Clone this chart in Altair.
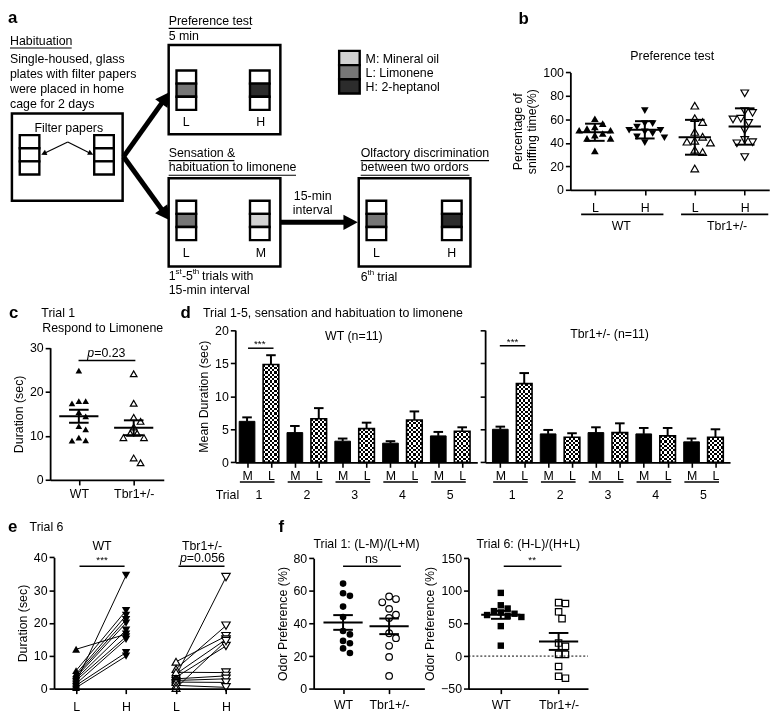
import math
import numpy as np
import pandas as pd
import altair as alt

FONT = "Liberation Sans"
INK = "black"

# ================= data =================
# b  Preference test: percentage of sniffing time (%)
b_wt_L = [60.6, 56.4, 53.6, 52.2, 50.8, 50.8, 48.0, 46.7, 43.9, 43.9, 33.3]
b_wt_H = [67.5, 56.4, 56.4, 53.6, 50.8, 50.8, 49.4, 48.0, 45.3, 44.4, 40.3]
b_tbr_L = [71.7, 61.1, 57.8, 49.4, 45.3, 41.9, 41.1, 40.3, 34.2, 32.2, 18.3]
b_tbr_H = [82.2, 67.0, 65.6, 60.6, 60.0, 57.0, 50.8, 42.5, 40.6, 39.7, 28.0]
b_ticks = ["L", "H", "L", "H"]

# c  Trial 1, response to limonene (sec)
c_wt = [24.8, 17.9, 17.4, 17.9, 15.4, 14.4, 12.2, 11.5, 9.6, 8.9, 9.0]
c_tbr = [24.1, 17.4, 14.2, 13.3, 12.0, 10.6, 10.6, 9.6, 9.6, 5.0, 3.9]
c_ticks = ["WT", "Tbr1+/-"]

# d  Trials 1-5, mean duration (sec) +/- SEM
d_trials = ["1", "2", "3", "4", "5"]
d_wt_M = [6.2, 4.5, 3.2, 2.9, 4.0]
d_wt_M_sem = [0.6, 1.0, 0.4, 0.3, 0.6]
d_wt_L = [14.8, 6.6, 5.1, 6.4, 4.7]
d_wt_L_sem = [1.4, 1.6, 0.9, 1.3, 0.6]
d_tbr_M = [5.0, 4.3, 4.5, 4.3, 3.1]
d_tbr_M_sem = [0.4, 0.6, 0.8, 0.9, 0.5]
d_tbr_L = [11.9, 3.8, 4.5, 4.0, 3.8]
d_tbr_L_sem = [1.6, 0.6, 1.4, 1.2, 1.2]

# e  Trial 6, paired durations (sec)
e_wt_L = [12.0, 2.0, 5.5, 4.5, 4.0, 3.5, 3.0, 2.5, 1.5, 1.0, 0.3]
e_wt_H = [16.6, 34.5, 23.8, 22.3, 21.0, 20.0, 17.8, 15.8, 15.0, 11.0, 9.9]
e_tbr_L = [3.9, 8.2, 6.0, 4.5, 3.5, 5.0, 3.0, 2.5, 2.0, 1.0, 0.2]
e_tbr_H = [34.0, 16.0, 19.2, 15.0, 13.0, 4.9, 3.9, 3.0, 1.9, 0.4, 14.5]
e_ticks = ["L", "H", "L", "H"]

# f  Odor preference (%)
f1_wt = [64.5, 58.6, 57.0, 50.4, 44.0, 35.4, 33.3, 29.3, 27.9, 24.7, 21.9]
f1_tbr = [56.6, 55.0, 53.0, 49.0, 45.4, 43.4, 34.0, 31.0, 26.3, 19.5, 7.8]
f6_wt = [97.0, 78.0, 73.0, 69.0, 67.0, 65.0, 63.0, 62.0, 60.0, 46.0, 16.0]
f6_tbr = [82.0, 80.7, 68.0, 57.5, 20.0, 15.0, 2.5, 2.5, -16.0, -31.0, -34.0]
f_ticks = ["WT", "Tbr1+/-"]

# ================= layout helpers =================
W, H = 770, 708
S = 0.99


def px(x):
    return (x - 1.0) * S


def py(y):
    return (y - 2.0) * S


XR = alt.Scale(domain=[0, 778], range=[px(0), px(778)], nice=False, zero=False)
YR = alt.Scale(domain=[0, 716], range=[py(0), py(716)], nice=False, zero=False)


class Sc:
    def __init__(self, dom, rng):
        self.dom = dom
        self.scale = alt.Scale(domain=dom, range=rng, nice=False, zero=False)

    def mid(self):
        return (self.dom[0] + self.dom[1]) / 2


def lin_x(va, xa, vb, xb, lo, hi):
    k = (xb - xa) / (vb - va)
    return Sc([va + (lo - xa) / k, va + (hi - xa) / k], [px(lo), px(hi)])


def lin_y(v0, y0, v1, y1):
    return Sc([v0, v1], [py(y0), py(y1)])


AX = dict(grid=False, domainColor=INK, domainWidth=1.8, tickColor=INK, tickWidth=1.6,
          tickSize=5, labelFont=FONT, labelFontSize=12.5, labelColor=INK,
          labelFlush=False, labelOverlap=False, titleFont=FONT, titleFontSize=12.5,
          titleFontWeight="normal", titleColor=INK, zindex=2)


def y_axis(x_ref, values, title="", labels=True, pad=4):
    return alt.Axis(orient="left", offset=-px(x_ref), values=values, title=title,
                    labels=labels, labelPadding=2, titlePadding=pad, **AX)


def x_axis(y_ref, values, expr, pad=2):
    return alt.Axis(orient="bottom", offset=py(y_ref) - H, values=values,
                    labelExpr=expr, title="", labelPadding=pad, **AX)


def axis_layer(xs, ys, xa, ya):
    d = pd.DataFrame({"ax": [xs.mid()], "ay": [ys.mid()]})
    return alt.Chart(d).mark_point(opacity=0).encode(
        x=alt.X("ax:Q", scale=xs.scale, axis=xa),
        y=alt.Y("ay:Q", scale=ys.scale, axis=ya))


def XY(xf, yf, xs, ys):
    return dict(x=alt.X(xf, type="quantitative", scale=xs.scale, axis=None),
                y=alt.Y(yf, type="quantitative", scale=ys.scale, axis=None))


def rules_on(rows, xs, ys, width=2.0, dash=None):
    df = pd.DataFrame(rows, columns=["x1", "y1", "x2", "y2"])
    kw = dict(color=INK, strokeWidth=width)
    if dash:
        kw["strokeDash"] = dash
    return alt.Chart(df).mark_rule(**kw).encode(
        x=alt.X("x1:Q", scale=xs.scale, axis=None), x2="x2:Q",
        y=alt.Y("y1:Q", scale=ys.scale, axis=None), y2="y2:Q")


def text_layer(rows, align="left", weight="normal", style="normal"):
    df = pd.DataFrame(rows, columns=["t", "x", "y", "s"])
    return alt.Chart(df).mark_text(font=FONT, align=align, baseline="middle",
                                   fontWeight=weight, fontStyle=style, color=INK).encode(
        x=alt.X("x:Q", scale=XR, axis=None), y=alt.Y("y:Q", scale=YR, axis=None),
        text="t:N", size=alt.Size("s:Q", scale=None))


def rule_layer(rows):
    df = pd.DataFrame(rows, columns=["x1", "y1", "x2", "y2", "w"])
    return alt.Chart(df).mark_rule(color=INK).encode(
        x=alt.X("x1:Q", scale=XR, axis=None), x2="x2:Q",
        y=alt.Y("y1:Q", scale=YR, axis=None), y2="y2:Q",
        strokeWidth=alt.StrokeWidth("w:Q", scale=None))


def rect_layer(rows):
    df = pd.DataFrame(rows, columns=["x1", "y1", "x2", "y2", "fill", "w"])
    return alt.Chart(df).mark_rect(stroke=INK).encode(
        x=alt.X("x1:Q", scale=XR, axis=None), x2="x2:Q",
        y=alt.Y("y1:Q", scale=YR, axis=None), y2="y2:Q",
        fill=alt.Fill("fill:N", scale=None),
        strokeWidth=alt.StrokeWidth("w:Q", scale=None))


def swarm(vals, ppu, diam):
    idx = sorted(range(len(vals)), key=lambda i: -vals[i])
    cands = [0.0]
    for j in range(1, 14):
        cands += [j * diam / 2, -j * diam / 2]
    placed, offs = [], [0.0] * len(vals)
    for i in idx:
        yv = vals[i] * ppu
        chosen = cands[-1]
        for c in cands:
            if all(math.hypot(c - ox, yv - oy) >= diam for ox, oy in placed):
                chosen = c
                break
        placed.append((chosen, yv))
        offs[i] = chosen
    return offs


def dot_layers(groups, xs, ys, step, ppu, diam, size, half_mean, half_cap, kind):
    out, srows = [], []
    for pos, vals, shape, filled in groups:
        offs = swarm(vals, ppu, diam)
        df = pd.DataFrame({"x": [pos + o / step for o in offs], "y": vals})
        if filled:
            mk = alt.Chart(df).mark_point(shape=shape, filled=True, color=INK,
                                          size=size, opacity=1)
        else:
            mk = alt.Chart(df).mark_point(shape=shape, filled=False, color=INK,
                                          strokeWidth=1.2, size=size, opacity=1)
        out.append(mk.encode(**XY("x", "y", xs, ys)))
        v = np.array(vals, dtype=float)
        m = v.mean()
        e = v.std(ddof=1)
        if kind == "sem":
            e = e / math.sqrt(len(v))
        hm, hc = half_mean / step, half_cap / step
        srows += [(pos - hm, m, pos + hm, m), (pos, m - e, pos, m + e),
                  (pos - hc, m - e, pos + hc, m - e), (pos - hc, m + e, pos + hc, m + e)]
    out.append(rules_on(srows, xs, ys, 2.0))
    return out


def stripes(n, along_x):
    stops = []
    for k in range(n):
        c = "white" if k % 2 == 0 else "black"
        stops.append(alt.GradientStop(offset=k / n, color=c))
        stops.append(alt.GradientStop(offset=(k + 1) / n, color=c))
    if along_x:
        return alt.Gradient(gradient="linear", stops=stops, x1=0, x2=1, y1=0, y2=0)
    return alt.Gradient(gradient="linear", stops=stops, x1=0, x2=0, y1=0, y2=1)


layers = []

# ================= panel a : schematic =================
GRAY_L, GRAY_H, GRAY_M = "#767676", "#2c2c2c", "#d2d2d2"
rects = [(5, 106, 118, 195, "white", 2.5), (165, 36, 279, 127, "white", 2.5),
         (165, 172, 279, 262, "white", 2.5), (359, 172, 473, 262, "white", 2.5)]
stacks = [(13, 128, "white"), (89, 128, "white"), (173, 62, GRAY_L), (248, 62, GRAY_H),
          (173, 195, GRAY_L), (248, 195, GRAY_M), (367, 195, GRAY_L), (444, 195, GRAY_H)]
ch = 13.4
for x0, y0, mid in stacks:
    for k in range(3):
        rects.append((x0, y0 + k * ch, x0 + 20, y0 + (k + 1) * ch,
                      mid if k == 1 else "white", 2.4))
for k, col in enumerate([GRAY_M, GRAY_L, GRAY_H]):
    rects.append((339, 42 + k * 14.5, 360, 42 + (k + 1) * 14.5, col, 2.4))
layers.append(rect_layer(rects))

HEAD = "M0,0L0.9,1.7L-0.9,1.7Z"
heads, shafts = [], []
for (tail, tip, r, w) in [((119, 150), (166, 84), 8.5, 5), ((119, 150), (166, 215), 8.5, 5),
                          ((279, 217), (358, 217), 8.5, 5),
                          ((62, 135), (35, 148), 3.2, 1.2), ((62, 135), (88, 148), 3.2, 1.2)]:
    dx, dy = tip[0] - tail[0], tip[1] - tail[1]
    ln = math.hypot(dx, dy)
    ux, uy = dx / ln, dy / ln
    hl = 1.7 * r * 0.85
    shafts.append((tail[0], tail[1], tip[0] - ux * hl, tip[1] - uy * hl, w))
    heads.append((tip[0], tip[1], math.degrees(math.atan2(dx, -dy)) % 360, (2 * r) ** 2))

underlines = [(3, 39, 66, 39, 1.1), (165, 19, 249, 19, 1.1), (165, 154, 232, 154, 1.1),
              (165, 169, 295, 169, 1.1), (361, 154, 492, 154, 1.1), (361, 169, 472, 169, 1.1),
              # group underlines (b) and significance bars
              (586, 209, 670, 209, 1.8), (688, 209, 777, 209, 1.8),
              (73, 358, 131, 358, 1.5), (246, 345.5, 272, 345.5, 1.5), (503, 343, 529, 343, 1.5),
              (74, 568, 120, 568, 1.5), (175, 568, 222, 568, 1.5),
              (343, 568, 402, 568, 1.5), (507, 568, 566, 568, 1.5)]
layers.append(rule_layer(shafts + underlines))
hdf = pd.DataFrame(heads, columns=["x", "y", "a", "s"])
layers.append(alt.Chart(hdf).mark_point(shape=HEAD, filled=True, color=INK, opacity=1).encode(
    x=alt.X("x:Q", scale=XR, axis=None), y=alt.Y("y:Q", scale=YR, axis=None),
    angle=alt.Angle("a:Q", scale=None), size=alt.Size("s:Q", scale=None)))

T = 12.5
left_txt = [
    ("Habituation", 3, 32, T), ("Single-housed, glass", 3, 50, T),
    ("plates with filter papers", 3, 65.5, T), ("were placed in home", 3, 81, T),
    ("cage for 2 days", 3, 96, T), ("Preference test", 165, 12, T), ("5 min", 165, 27, T),
    ("M: Mineral oil", 366, 50, T), ("L: Limonene", 366, 64.5, T), ("H: 2-heptanol", 366, 79, T),
    ("Sensation &", 165, 146, T), ("habituation to limonene", 165, 161, T),
    ("Olfactory discrimination", 361, 146, T), ("between two ordors", 361, 161, T),
    ("1", 165, 272, T), ("st", 172, 268, 8), ("-5", 178.5, 272, T), ("th", 189.5, 268, 8),
    ("trials with", 199, 272, T), ("15-min interval", 165, 286, T),
    ("6", 361, 273, T), ("th", 368, 269, 8), ("trial", 378, 273, T),
    ("Trial 1", 35, 310, T), ("Respond to Limonene", 36, 325, T),
    ("Trial 1-5, sensation and habituation to limonene", 200, 310, T),
    ("Trial 6", 23, 528, T),
    ("=0.23", 89, 350, T), ("=0.056", 183.5, 560, T),
]
center_txt = [
    ("Filter papers", 63, 121, T), ("L", 183, 115, T), ("H", 259, 115, T),
    ("L", 183, 248, T), ("M", 259, 248, T), ("L", 377, 248, T), ("H", 454, 248, T),
    ("15-min", 312, 190, T), ("interval", 312, 204, T),
    ("Preference test", 679, 47, T), ("WT", 627, 221, T), ("Tbr1+/-", 735, 221, T),
    ("WT (n=11)", 354, 333, T), ("Tbr1+/- (n=11)", 615, 331, T),
    ("WT", 97, 547, T), ("Tbr1+/-", 199, 547, T),
    ("Trial 1: (L-M)/(L+M)", 367, 545, T), ("Trial 6: (H-L)/(H+L)", 532, 545, T),
    ("ns", 372, 561, T),
    ("***", 258, 341, 10), ("***", 516, 339, 10), ("***", 97, 562, 10), ("**", 536, 562, 10),
]
bold_txt = [("a", 1, 9, 17), ("b", 522, 10, 17), ("c", 2, 310, 17), ("d", 177, 310, 17),
            ("e", 1, 528, 17), ("f", 277, 528, 17)]
layers.append(text_layer(left_txt, "left"))
layers.append(text_layer(center_txt, "center"))
layers.append(text_layer([("Trial", 237, 495, T)], "right"))
layers.append(text_layer(bold_txt, "left", weight="bold"))
layers.append(text_layer([("p", 82, 350, T), ("p", 176.5, 560, T)], "left", style="italic"))

# ================= panel b =================
xs_b = lin_x(1, 600, 2, 651, 575, 778)
ys_b = lin_y(0, 184, 100, 64)
layers += dot_layers([(1, b_wt_L, "triangle-up", True), (2, b_wt_H, "triangle-down", True),
                      (3, b_tbr_L, "triangle-up", False), (4, b_tbr_H, "triangle-down", False)],
                     xs_b, ys_b, 51, 1.2, 8, 60, 16.5, 10, "sd")
layers.append(axis_layer(
    xs_b, ys_b,
    x_axis(184, [1, 2, 3, 4], "datum.value % 2 == 1 ? 'L' : 'H'", pad=7),
    y_axis(575, [0, 20, 40, 60, 80, 100], ["Percentage of", "sniffing time(%)"])))

# ================= panel c =================
xs_c = lin_x(1, 73.3, 2, 129.3, 44, 160)
ys_c = lin_y(0, 480, 30, 345)
layers += dot_layers([(1, c_wt, "triangle-up", True), (2, c_tbr, "triangle-up", False)],
                     xs_c, ys_c, 56, 4.5, 7, 45, 20, 10, "sem")
layers.append(axis_layer(
    xs_c, ys_c,
    x_axis(480, [1, 2], "datum.value == 1 ? 'WT' : 'Tbr1+/-'", pad=3),
    y_axis(44, [0, 10, 20, 30], "Duration (sec)")))

# ================= panel d =================
ys_d = lin_y(0, 462, 20, 327)
PPU_D = 135 / 20 * S
HW = 8 / 24.4


def d_panel(Mv, Ms, Lv, Ls, xs, yax):
    out = []
    pm = [2 * i for i in range(5)]
    pl = [2 * i + 1 for i in range(5)]
    mdf = pd.DataFrame({"x1": [p - HW for p in pm], "x2": [p + HW for p in pm],
                        "y": Mv, "z": [0] * 5})
    out.append(alt.Chart(mdf).mark_bar(color=INK, stroke=INK, strokeWidth=1).encode(
        **XY("x1", "y", xs, ys_d), x2="x2:Q", y2="z:Q"))
    ldf = pd.DataFrame({"x1": [p - HW for p in pl], "x2": [p + HW for p in pl],
                        "y": Lv, "z": [0] * 5})
    for i in range(5):
        ny = max(2, int(round(Lv[i] * PPU_D / 2.3)))
        out.append(alt.Chart(ldf.iloc[[i]]).mark_bar(fill=stripes(ny, False)).encode(
            **XY("x1", "y", xs, ys_d), x2="x2:Q", y2="z:Q"))
    out.append(alt.Chart(ldf).mark_bar(fill=stripes(7, True), blend="difference").encode(
        **XY("x1", "y", xs, ys_d), x2="x2:Q", y2="z:Q"))
    out.append(alt.Chart(ldf).mark_bar(fillOpacity=0, stroke=INK, strokeWidth=1.6).encode(
        **XY("x1", "y", xs, ys_d), x2="x2:Q", y2="z:Q"))
    er = []
    for p, v, s in list(zip(pm, Mv, Ms)) + list(zip(pl, Lv, Ls)):
        er += [(p, v, p, v + s), (p - 0.2, v + s, p + 0.2, v + s)]
    out.append(rules_on(er, xs, ys_d, 2.0))
    out.append(axis_layer(xs, ys_d, x_axis(462, list(range(10)),
                                           "datum.value % 2 == 0 ? 'M' : 'L'", pad=2), yax))
    udf = pd.DataFrame({"x1": [p - 0.3 for p in pm], "x2": [p + 0.15 for p in pl]})
    out.append(alt.Chart(udf).mark_rule(color=INK, strokeWidth=1.5).encode(
        x=alt.X("x1:Q", scale=xs.scale, axis=None), x2="x2:Q", y=alt.value(py(482))))
    tdf = pd.DataFrame({"x": [p + 0.5 for p in pm], "t": d_trials})
    out.append(alt.Chart(tdf).mark_text(font=FONT, fontSize=T, color=INK, baseline="middle").encode(
        x=alt.X("x:Q", scale=xs.scale, axis=None), y=alt.value(py(495)), text="t:N"))
    return out


xs_dw = lin_x(0, 245, 1, 269.4, 233, 480)
xs_dt = lin_x(0, 503.5, 1, 527.9, 488, 738)
layers += d_panel(d_wt_M, d_wt_M_sem, d_wt_L, d_wt_L_sem, xs_dw,
                  y_axis(233, [0, 5, 10, 15, 20], "Mean Duration (sec)"))
layers += d_panel(d_tbr_M, d_tbr_M_sem, d_tbr_L, d_tbr_L_sem, xs_dt,
                  y_axis(488, [0, 5, 10, 15, 20], "", labels=False))

# ================= panel e =================
xs_e = lin_x(1, 70.5, 2, 121.5, 48, 248)
ys_e = lin_y(0, 693, 40, 559)
lines = []
for k in range(len(e_wt_L)):
    lines += [("w%d" % k, 1, e_wt_L[k]), ("w%d" % k, 2, e_wt_H[k])]
for k in range(len(e_tbr_L)):
    lines += [("t%d" % k, 3, e_tbr_L[k]), ("t%d" % k, 4, e_tbr_H[k])]
edf = pd.DataFrame(lines, columns=["id", "x", "y"])
layers.append(alt.Chart(edf).mark_line(color=INK, strokeWidth=1).encode(
    **XY("x", "y", xs_e, ys_e), detail="id:N"))
for pos, vals, shape, filled, size in [(1, e_wt_L, "triangle-up", True, 64),
                                       (2, e_wt_H, "triangle-down", True, 72),
                                       (3, e_tbr_L, "triangle-up", False, 64),
                                       (4, e_tbr_H, "triangle-down", False, 72)]:
    df = pd.DataFrame({"x": [pos] * len(vals), "y": vals})
    if filled:
        mk = alt.Chart(df).mark_point(shape=shape, filled=True, color=INK, size=size, opacity=1)
    else:
        mk = alt.Chart(df).mark_point(shape=shape, filled=True, fill="white", stroke=INK,
                                      strokeWidth=1.2, size=size, opacity=1)
    layers.append(mk.encode(**XY("x", "y", xs_e, ys_e)))
layers.append(axis_layer(
    xs_e, ys_e,
    x_axis(693, [1, 2, 3, 4], "datum.value % 2 == 1 ? 'L' : 'H'", pad=7),
    y_axis(48, [0, 10, 20, 30, 40], "Duration (sec)")))

# ================= panel f =================
xs_f1 = lin_x(1, 343, 2, 390, 313, 426)
ys_f1 = lin_y(0, 693, 80, 560)
layers += dot_layers([(1, f1_wt, "circle", True), (2, f1_tbr, "circle", False)],
                     xs_f1, ys_f1, 47, 133 / 80, 7, 45, 20, 10, "sem")
layers.append(axis_layer(
    xs_f1, ys_f1,
    x_axis(693, [1, 2], "datum.value == 1 ? 'WT' : 'Tbr1+/-'", pad=5),
    y_axis(313, [0, 20, 40, 60, 80], "Odor Preference (%)")))

xs_f6 = lin_x(1, 504, 2, 563, 471, 593)
ys_f6 = lin_y(-50, 693, 150, 560)
layers.append(rules_on([(xs_f6.dom[0], 0, xs_f6.dom[1], 0)], xs_f6, ys_f6, 1.0, dash=[2, 2]))
layers += dot_layers([(1, f6_wt, "square", True), (2, f6_tbr, "square", False)],
                     xs_f6, ys_f6, 59, 133 / 200, 7, 42, 20, 10, "sem")
layers.append(axis_layer(
    xs_f6, ys_f6,
    x_axis(693, [1, 2], "datum.value == 1 ? 'WT' : 'Tbr1+/-'", pad=5),
    y_axis(471, [-50, 0, 50, 100, 150], "Odor Preference (%)")))

chart = alt.layer(*layers).resolve_scale(
    x="independent", y="independent"
).properties(
    width=W, height=H, padding=0, autosize=alt.AutoSizeParams(type="none")
).configure_view(stroke=None)

chart.save("out.html", embed_options={"renderer": "svg", "actions": False})
